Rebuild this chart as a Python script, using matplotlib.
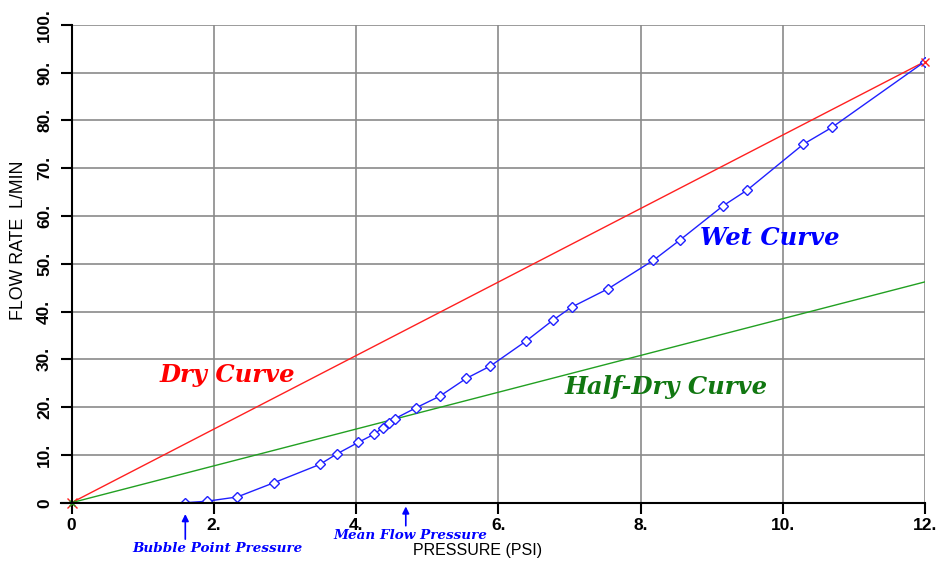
import matplotlib
matplotlib.use("Agg")
import matplotlib.pyplot as plt

# wet curve points
wet_p = [1.60, 1.90, 2.33, 2.85, 3.49, 3.73, 4.03, 4.25, 4.38, 4.46, 4.55, 4.85,
         5.18, 5.55, 5.89, 6.39, 6.77, 7.03, 7.55, 8.18, 8.55, 9.16, 9.50, 10.29,
         10.69, 12.0]
wet_f = [0.0, 0.3, 1.2, 4.2, 8.0, 10.2, 12.6, 14.3, 15.7, 16.7, 17.6, 19.9,
         22.3, 26.0, 28.6, 33.8, 38.2, 40.9, 44.8, 50.7, 54.9, 62.1, 65.4, 75.0,
         78.5, 92.3]
dry_p = [0.0, 12.0]
dry_f = [0.0, 92.3]
half_p = [0.0, 12.0]
half_f = [0.0, 46.2]
bubble_p = 1.60
mean_p = 4.70

xticks = [0, 2, 4, 6, 8, 10, 12]
xlabels = ["0", "2.", "4.", "6.", "8.", "10.", "12."]
yticks = list(range(0, 101, 10))
ylabels = ["0"] + [str(v) + "." for v in yticks[1:]]

W, H = 936, 563
fig = plt.figure(figsize=(W / 100, H / 100), dpi=100)
ax = fig.add_axes([71.5 / W, 60.3 / H, (925 - 71.5) / W, 478 / H])
ax.set_xlim(0, 12)
ax.set_ylim(0, 100)

for s in ["top", "right"]:
    ax.spines[s].set_visible(False)
for s in ["left", "bottom"]:
    ax.spines[s].set_linewidth(1.5)
ax.spines["bottom"].set_bounds(-0.15, 12)

tick_font = "Liberation Sans"
ax.set_xticks(xticks)
ax.set_xticklabels(xlabels, fontweight="bold", fontsize=12.5, family=tick_font)
ax.set_yticks(yticks)
ax.set_yticklabels(ylabels, fontweight="bold", fontsize=12.5, family=tick_font,
                   rotation=90, va="center")
ax.tick_params(direction="out", length=8, width=1.5, color="black")
ax.tick_params(axis="x", pad=3)
ax.tick_params(axis="y", pad=6)
ax.grid(True, color="#8a8a8a", lw=1.2)
ax.set_axisbelow(True)

ax.plot(dry_p, dry_f, color="#ff2020", lw=1)
ax.plot(half_p, half_f, color="#22a022", lw=1)
ax.plot(wet_p, wet_f, color="#2020ff", lw=1, marker="D", ms=5, mfc="white",
        mec="#2020ff", mew=1)
ax.plot([0], [0], "x", color="#ff2020", ms=7, clip_on=False)
ax.plot([0], [0], "x", color="#22a022", ms=5, clip_on=False)
ax.plot([12], [92.3], "x", color="#ff2020", ms=6, clip_on=False)

serif = "DejaVu Serif"
ax.text(1.24, 26.7, "Dry Curve", color="#ff0000", fontsize=17.5, fontweight="bold",
        style="italic", family=serif, va="center")
ax.text(8.83, 55.3, "Wet Curve", color="#0000ff", fontsize=17.5, fontweight="bold",
        style="italic", family=serif, va="center")
ax.text(6.93, 24.2, "Half-Dry Curve", color="#117711", fontsize=17.5, fontweight="bold",
        style="italic", family=serif, va="center")

ax.annotate("", xy=(bubble_p, -1.8), xytext=(bubble_p, -8.2),
            arrowprops=dict(arrowstyle="-|>", color="#0000ff", lw=1.2,
                            mutation_scale=10), annotation_clip=False)
ax.annotate("", xy=(mean_p, -0.2), xytext=(mean_p, -5.4),
            arrowprops=dict(arrowstyle="-|>", color="#0000ff", lw=1.2,
                            mutation_scale=10), annotation_clip=False)
fig.text(217 / W, 1 - 549 / H, "Bubble Point Pressure", color="#0000ff", fontsize=9.7,
         fontweight="bold", style="italic", family=serif, ha="center", va="center")
fig.text(410 / W, 1 - 535.5 / H, "Mean Flow Pressure", color="#0000ff", fontsize=9.7,
         fontweight="bold", style="italic", family=serif, ha="center", va="center")

fig.text(478 / W, 1 - 551 / H, "PRESSURE (PSI)", fontsize=11.5, family="Liberation Sans",
         ha="center", va="center")
fig.text(19 / W, 1 - 240 / H, "FLOW RATE  L/MIN", fontsize=12.8, family="Liberation Sans",
         rotation=90, ha="center", va="center")

fig.savefig("out.png", dpi=100)
